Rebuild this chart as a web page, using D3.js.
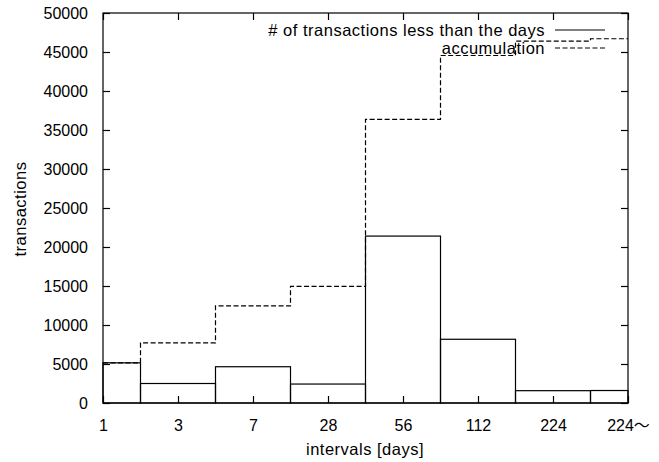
<!DOCTYPE html>
<html><head><meta charset="utf-8">
<script src="https://cdn.jsdelivr.net/npm/d3@7"></script>
<style>
html,body{margin:0;padding:0;background:#fff;}
text{font-family:"Liberation Sans",Arial,"Noto Sans CJK JP",sans-serif;font-size:16px;fill:#000;}
.lbl{font-size:16.5px;letter-spacing:0.5px;}
</style></head>
<body><svg id="c" width="659" height="462"></svg>
<script>
const categories = ["1","3","7","28","56","112","224","224〜"];
const counts = [5150, 2500, 4650, 2430, 21400, 8170, 1580, 1600];
const accumulation = [5150, 7700, 12450, 14950, 36350, 44550, 46400, 46700];
const yTicks = [0,5000,10000,15000,20000,25000,30000,35000,40000,45000,50000];
const seriesNames = ["# of transactions less than the days", "accumulation"];

const svg = d3.select("#c");
const L=103, R=628, T=13, B=403;
const x = d3.scalePoint().domain(categories).range([L,R]);
const y = d3.scaleLinear().domain([0,50000]).range([B,T]);
const half = x.step()/2;
const tl = 7;

// bars
const g = svg.append("g");
categories.forEach((c,i)=>{
  const x0 = Math.max(L, x(c)-half), x1 = Math.min(R, x(c)+half);
  g.append("rect").attr("x",x0).attr("y",y(counts[i])).attr("width",x1-x0).attr("height",B-y(counts[i]))
   .attr("fill","none").attr("stroke","#000").attr("stroke-width",1.2);
});

// accumulation histeps
const pts = [];
categories.forEach((c,i)=>{
  const x0 = Math.max(L, x(c)-half), x1 = Math.min(R, x(c)+half);
  pts.push([x0, y(accumulation[i])]); pts.push([x1, y(accumulation[i])]);
});
svg.append("path").attr("d", d3.line()(pts)).attr("fill","none").attr("stroke","#000")
  .attr("stroke-width",1.2).attr("stroke-dasharray","5,2.5");

// frame
svg.append("rect").attr("x",L).attr("y",T).attr("width",R-L).attr("height",B-T)
  .attr("fill","none").attr("stroke","#000").attr("stroke-width",1.2);

// axes
const yAxisL = d3.axisLeft(y).tickValues(yTicks).tickSize(-tl).tickPadding(15).tickFormat(d3.format("d"));
const ga = svg.append("g").attr("transform",`translate(${L},0)`).call(yAxisL);
const yAxisR = d3.axisRight(y).tickValues(yTicks).tickSize(-tl).tickFormat("");
const gr = svg.append("g").attr("transform",`translate(${R},0)`).call(yAxisR);
const xAxisB = d3.axisBottom(x).tickSize(-tl).tickPadding(17);
const gb = svg.append("g").attr("transform",`translate(0,${B})`).call(xAxisB);
const xAxisT = d3.axisTop(x).tickSize(-tl).tickFormat("");
const gt = svg.append("g").attr("transform",`translate(0,${T})`).call(xAxisT);
[ga,gr,gb,gt].forEach(a=>{
  a.attr("font-family",null).attr("font-size",null);
  a.select(".domain").remove();
  a.selectAll("line").attr("stroke","#000").attr("stroke-width",1.2);
  a.selectAll("text").attr("fill","#000");
});

// labels
svg.append("text").attr("class","lbl").attr("transform","translate(26,209) rotate(-90)").attr("text-anchor","middle").text("transactions");
svg.append("text").attr("class","lbl").attr("x",365).attr("y",455).attr("text-anchor","middle").text("intervals [days]");

// legend
svg.append("text").attr("class","lbl").attr("x",545).attr("y",36).attr("text-anchor","end").text(seriesNames[0]);
svg.append("line").attr("x1",555).attr("x2",605).attr("y1",30).attr("y2",30).attr("stroke","#000").attr("stroke-width",1.2);
svg.append("text").attr("class","lbl").attr("x",545).attr("y",54).attr("text-anchor","end").text(seriesNames[1]);
svg.append("line").attr("x1",555).attr("x2",605).attr("y1",48).attr("y2",48).attr("stroke","#000").attr("stroke-width",1.2).attr("stroke-dasharray","5,2.5");
</script></body></html>
